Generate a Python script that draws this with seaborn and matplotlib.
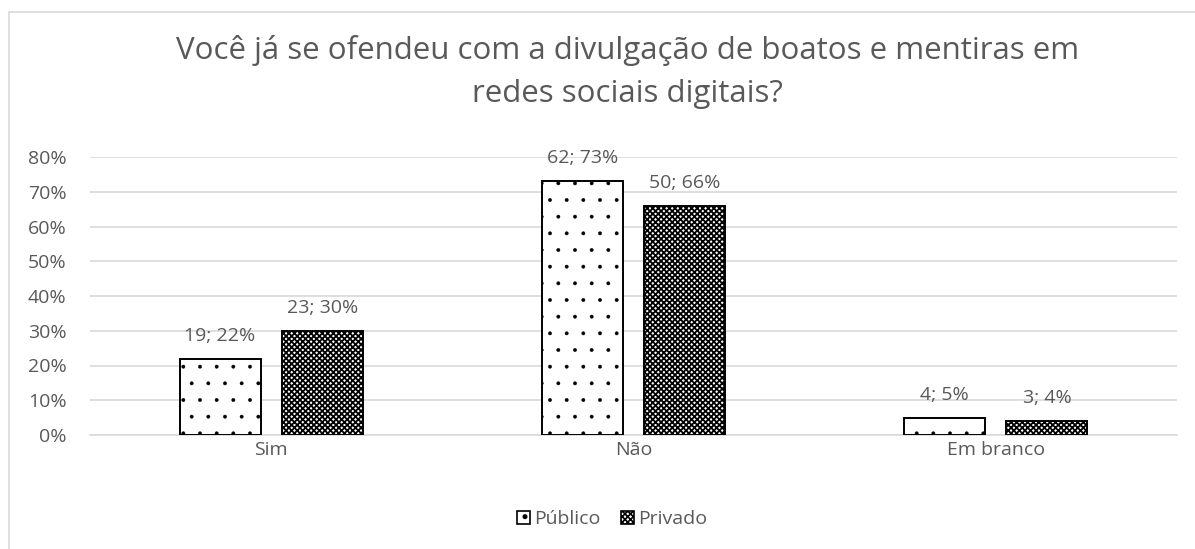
import matplotlib
matplotlib.use("Agg")
import matplotlib.pyplot as plt
import seaborn as sns
import pandas as pd
from matplotlib.patches import Rectangle, Patch

# Data
categorias = ["Sim", "Não", "Em branco"]
grupos = ["Público", "Privado"]
publico_pct = [0.22, 0.73, 0.05]
privado_pct = [0.30, 0.66, 0.04]
publico_n = [19, 62, 4]
privado_n = [23, 50, 3]
yticks = [0, 0.1, 0.2, 0.3, 0.4, 0.5, 0.6, 0.7, 0.8]
titulo = "Você já se ofendeu com a divulgação de boatos e mentiras em\nredes sociais digitais?"

df = pd.DataFrame({
    "categoria": categorias * 2,
    "grupo": [grupos[0]] * 3 + [grupos[1]] * 3,
    "pct": publico_pct + privado_pct,
    "n": publico_n + privado_n,
})

sns.set_theme(style="white")
plt.rcParams["font.family"] = ["Open Sans", "DejaVu Sans"]
plt.rcParams["hatch.linewidth"] = 1.2

TXT = "#595959"
GRID = "#d9d9d9"
FS = 14

fig = plt.figure(figsize=(11.95, 5.49), dpi=100)
# outer chart border
fig.patches.append(Rectangle((8.5 / 1195, -0.1), 1.2, (549 - 12.5) / 549 + 0.1,
                             transform=fig.transFigure, fill=False,
                             edgecolor=GRID, linewidth=1.2, zorder=0))

ax = fig.add_axes([90 / 1195, 114 / 549, (1177 - 90) / 1195, (435 - 157) / 549])

sns.barplot(data=df, x="categoria", y="pct", hue="grupo", order=categorias,
            hue_order=grupos, width=0.5635, gap=0.205, ax=ax, legend=False,
            palette=["white", "white"], edgecolor="black", linewidth=1.4,
            errorbar=None, zorder=3)

hatches = {"Público": ".", "Privado": "xxxxxx"}
hatch_lw = {"Público": 0.3, "Privado": 1.3}
for container, g in zip(ax.containers, grupos):
    for bar in container:
        bar.set_hatch(hatches[g])
        bar.set_edgecolor("black")
        if hasattr(bar, "set_hatch_linewidth"):
            bar.set_hatch_linewidth(hatch_lw[g])
    sub = df[df.grupo == g].set_index("categoria").loc[categorias]
    labels = [f"{n}; {round(p * 100):d}%" for n, p in zip(sub.n, sub.pct)]
    ax.bar_label(container, labels=labels, padding=10, fontsize=FS, color=TXT)

ax.set_ylim(0, 0.8)
ax.set_yticks(yticks)
ax.set_yticklabels([f"{round(t * 100):d}%" for t in yticks])
ax.set_xlim(-0.5, 2.5)
ax.yaxis.grid(True, color=GRID, linewidth=1.2, zorder=0)
ax.set_axisbelow(True)
for s in ax.spines.values():
    s.set_visible(False)
ax.spines["bottom"].set_visible(True)
ax.spines["bottom"].set_color(GRID)
ax.spines["bottom"].set_linewidth(1.2)
ax.tick_params(axis="y", length=0, pad=17, labelsize=FS, labelcolor=TXT)
ax.tick_params(axis="x", length=0, pad=4, labelsize=FS, labelcolor=TXT)
ax.set_xlabel("")
ax.set_ylabel("")

fig.text(0.525, 1 - 72 / 549, titulo, ha="center", va="center", fontsize=22.5,
         color=TXT, linespacing=1.6, multialignment="center")

handles = []
for g in grupos:
    h = Patch(facecolor="white", edgecolor="black", hatch=hatches[g], linewidth=1.2)
    if hasattr(h, "set_hatch_linewidth"):
        h.set_hatch_linewidth(hatch_lw[g])
    handles.append(h)
fig.legend(handles, grupos, loc="center", bbox_to_anchor=(612 / 1195, 1 - 519 / 549),
           ncol=2, frameon=False, fontsize=FS, labelcolor=TXT,
           handlelength=0.68, handleheight=0.68, handletextpad=0.22, columnspacing=1.05)

fig.savefig("out.png", dpi=100, facecolor="white")
